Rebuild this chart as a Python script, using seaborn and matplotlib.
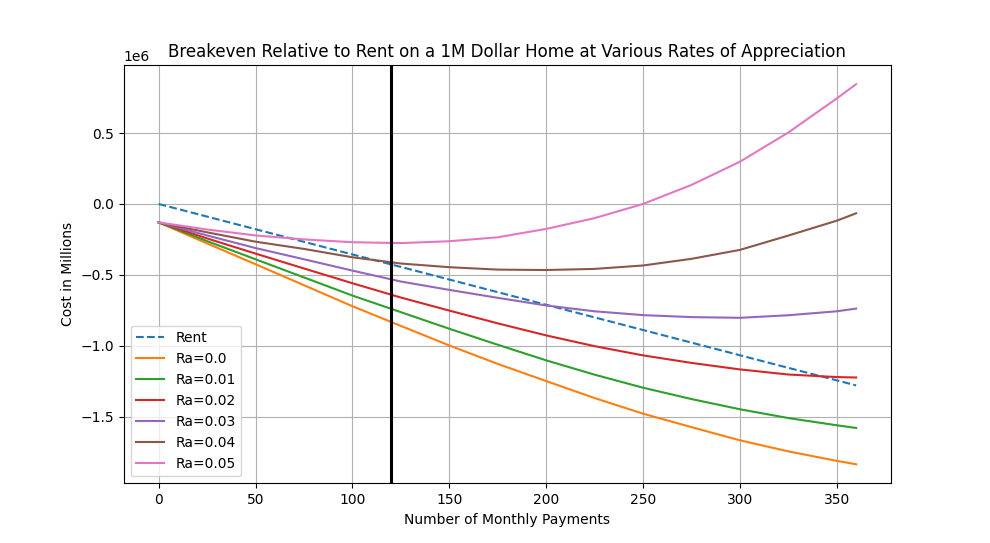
import numpy as np
import pandas as pd
import matplotlib
matplotlib.use("Agg")
import matplotlib.pyplot as plt
import seaborn as sns

# values (dollars)
months = [0, 25, 50, 75, 100, 125, 150, 175, 200, 225, 250, 275, 300, 325, 350, 360]

rent = [0, -89e3, -178e3, -267e3, -356e3, -444e3, -533e3, -622e3, -711e3,
        -800e3, -889e3, -978e3, -1067e3, -1156e3, -1244e3, -1280e3]

ra_000 = [-130e3, -278e3, -425e3, -573e3, -721e3, -860e3, -998e3, -1128e3, -1249e3,
          -1369e3, -1479e3, -1574e3, -1667e3, -1745e3, -1812e3, -1836e3]
ra_001 = [-130e3, -262e3, -390e3, -518e3, -646e3, -763e3, -880e3, -993e3, -1103e3,
          -1204e3, -1296e3, -1376e3, -1448e3, -1510e3, -1561e3, -1580e3]
ra_002 = [-130e3, -243e3, -350e3, -455e3, -559e3, -660e3, -752e3, -842e3, -927e3,
          -1003e3, -1068e3, -1121e3, -1167e3, -1203e3, -1221e3, -1224e3]
ra_003 = [-130e3, -222e3, -311e3, -390e3, -470e3, -547e3, -606e3, -662e3, -716e3,
          -757e3, -784e3, -798e3, -803e3, -785e3, -757e3, -738e3]
ra_004 = [-130e3, -200e3, -266e3, -317e3, -376e3, -420e3, -446e3, -463e3, -466e3,
          -458e3, -434e3, -387e3, -324e3, -223e3, -118e3, -66e3]
ra_005 = [-130e3, -180e3, -222e3, -250e3, -270e3, -276e3, -263e3, -235e3, -176e3,
          -100e3, 0, 134e3, 298e3, 504e3, 744e3, 845e3]

ra_labels = ["Ra=0.0", "Ra=0.01", "Ra=0.02", "Ra=0.03", "Ra=0.04", "Ra=0.05"]
ra_values = [ra_000, ra_001, ra_002, ra_003, ra_004, ra_005]
breakeven_month = 120

fig, ax = plt.subplots(figsize=(9.9, 5.43), dpi=100)

sns.lineplot(x=months, y=rent, ax=ax, color="C0", linestyle="--", label="Rent")
for i, (lab, vals) in enumerate(zip(ra_labels, ra_values)):
    sns.lineplot(x=months, y=vals, ax=ax, color=f"C{i + 1}", label=lab)

ax.axvline(breakeven_month, color="black", linewidth=2.2)

ax.grid(True)
ax.set_title("Breakeven Relative to Rent on a 1M Dollar Home at Various Rates of Appreciation")
ax.set_xlabel("Number of Monthly Payments")
ax.set_ylabel("Cost in Millions")
ax.legend(loc="lower left")

fig.savefig("out.png", dpi=100)
